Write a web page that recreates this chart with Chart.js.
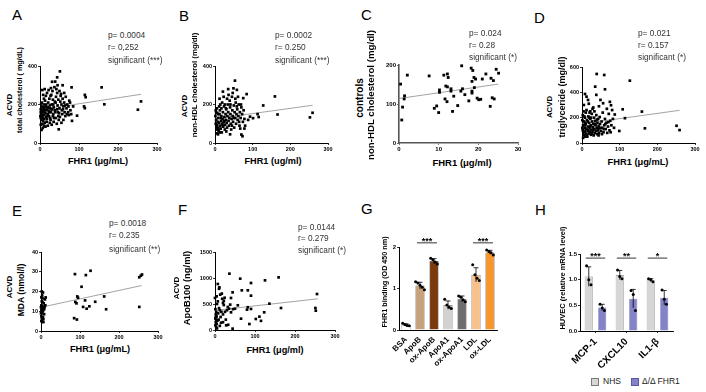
<!DOCTYPE html>
<html>
<head>
<meta charset="utf-8">
<script src="https://cdn.jsdelivr.net/npm/chart.js@4.4.0/dist/chart.umd.min.js"></script>
<style>
  body { margin: 0; width: 706px; height: 392px; background: #fff; position: relative; overflow: hidden;
         font-family: Arial, "Liberation Sans", sans-serif; }
  canvas { position: absolute; }
  .t { position: absolute; white-space: nowrap; line-height: 1; color: #000; }
  .lbl { font-size: 15px; }
  .st { font-size: 8.3px; color: #333; }
  .xt { font-weight: bold; transform: translate(-50%, -50%); }
  .yt { font-weight: bold; transform: translate(-50%, -50%) rotate(-90deg); }
  .box { position: absolute; width: 6px; height: 6px; }
</style>
</head>
<body>
<script>
const FONT = 'Arial, "Liberation Sans", sans-serif';
Chart.defaults.font.family = FONT;
Chart.defaults.color = '#000';

// A: ACVD total cholesterol vs FHR1
const totalChol = [[51,372],[44,341],[39,319],[31,318],[58,300],[81,289],[158,289],[115,250],[117,238],[165,201],[113,190],[115,181],[251,173],[259,216],[95,142],[48,71],[4,68],[7,78],[10,90],[2,95],
  [3,150],[5,165],[2,175],[6,140],[8,130],[4,120],[9,160],[11,145],[12,170],[7,185],[10,200],[5,210],[13,220],[15,190],[14,155],[16,135],[18,125],[20,150],[19,175],[22,165],[21,210],[24,230],[25,195],[26,180],[23,140],[27,120],[28,160],[30,200],[29,250],[32,270],[33,225],[35,185],[34,150],[36,130],[38,170],[40,210],[41,240],[42,280],[44,260],[45,195],[46,160],[47,140],[48,120],[50,180],[52,215],[53,245],[55,200],[56,170],[57,150],[58,230],[60,190],[62,210],[63,160],[65,140],[66,240],[68,180],[70,200],[72,160],[74,145],[75,220],[78,170],[80,150],[85,190],[82,115],[60,120],[55,105],[43,100],[35,110],[30,95],[25,105],[17,110],[12,105],[8,115],[6,100],[14,85],[20,90],[38,215],[31,175],[27,245],[18,260],[10,230],[8,250],[6,275],[12,280],[15,245],[22,275],[28,285],[37,290],[45,300],[50,270],[54,255],[62,260],[4,190],[3,205],[2,160],[1,140],[9,175],[16,200],[13,185],[19,140],[24,160],[26,130],[33,140],[39,160],[44,175],[49,155],[51,135],[59,175],[64,195],[69,150],[73,190],[77,210],[2,130],[5,145],[7,160],[11,125],[15,170],[21,185],[29,175],[34,200],[40,130],[47,225]];
const totalCholFit = [[0,173],[259,253]];

// B: ACVD non-HDL cholesterol
const nonHdl = [[53,324],[49,284],[58,276],[35,280],[21,267],[75,233],[84,254],[159,242],[128,195],[166,148],[113,150],[116,135],[252,133],[259,157],[70,44],[73,35],[101,129],[93,137],[88,120],[80,90],[78,75],
  [2,100],[3,120],[4,85],[5,70],[6,95],[7,110],[8,130],[9,80],[10,60],[11,105],[12,150],[13,170],[14,90],[15,75],[16,115],[17,140],[18,55],[19,100],[20,125],[21,160],[22,85],[23,110],[24,190],[25,135],[26,70],[27,95],[28,150],[29,120],[30,175],[31,105],[32,80],[33,140],[34,200],[35,160],[36,115],[37,90],[38,130],[39,220],[40,185],[41,150],[42,100],[43,70],[44,125],[45,240],[46,170],[47,140],[48,110],[50,195],[51,80],[52,160],[54,130],[55,210],[56,100],[57,150],[59,175],[60,120],[62,140],[63,200],[65,90],[66,160],[68,130],[70,185],[72,150],[74,110],[76,170],[78,125],[1,140],[2,170],[3,160],[5,180],[6,155],[4,50],[8,45],[10,65],[13,55],[7,75],[9,150],[11,190],[14,200],[17,180],[19,210],[12,230],[23,240],[26,200],[29,180],[32,230],[36,250],[41,200],[47,260],[54,230],[58,190],[61,240],[69,200],[15,130],[20,95],[25,115],[30,60],[40,45],[45,90],[50,130],[64,110],[67,75]];
const nonHdlFit = [[0,126],[259,196]];

// C: controls non-HDL cholesterol
const ctrlNonHdl = [[0.4,151],[0.9,92],[0.7,59],[1.3,113],[1.4,121],[2.1,174],[7.6,172],[8.9,89],[9.5,95],[10.0,78],[10.2,136],[10.2,130],[11.3,174],[12.2,177],[12.4,168],[11.8,146],[12.2,144],[11.6,113],[12.1,106],[13.1,139],[13.1,133],[13.5,81],[13.8,120],[14.8,96],[15.8,198],[16.0,139],[15.6,133],[16.6,124],[17.6,108],[18.2,192],[18.4,158],[18.4,133],[18.4,128],[18.9,168],[19.0,142],[19.3,164],[19.7,115],[20.1,111],[20.6,112],[21.0,164],[21.9,177],[23.0,94],[23.2,166],[23.5,116],[24.0,113],[23.8,160],[24.5,189],[25.1,179],[18.6,186]];
const ctrlNonHdlFit = [[0,114],[25,151]];

// D: ACVD triglyceride
const trig = [[39,545],[59,537],[127,492],[61,424],[35,445],[8,387],[12,366],[16,340],[49,340],[56,314],[74,325],[77,298],[108,266],[159,248],[167,116],[99,95],[251,136],[259,102],[114,196],[87,225],[80,260],[66,270],[45,290],[30,280],[22,250],[10,240],[5,300],[18,310],[38,380],
  [2,100],[3,140],[4,80],[5,170],[6,60],[7,120],[8,200],[9,90],[10,150],[11,70],[12,110],[13,180],[14,50],[15,130],[16,95],[17,210],[18,75],[19,160],[20,120],[21,85],[22,190],[23,140],[24,65],[25,105],[26,230],[27,170],[28,90],[29,125],[30,150],[31,60],[32,200],[33,110],[34,80],[35,175],[36,140],[37,95],[38,220],[39,120],[40,70],[41,160],[42,100],[43,190],[44,135],[45,80],[46,115],[47,205],[48,150],[50,95],[52,170],[54,120],[55,240],[57,85],[59,140],[61,190],[63,110],[65,160],[67,80],[69,130],[71,230],[73,100],[75,175],[78,140],[82,190],[85,120],[1,180],[2,220],[4,250],[3,40],[6,210],[8,160],[9,50],[12,260],[15,170],[20,240],[24,200],[28,270],[33,250],[1,120],[5,90],[7,140],[10,110],[13,60],[17,100],[19,200],[22,130],[26,75],[30,105],[34,150],[40,185],[44,60],[49,120],[53,70],[58,110],[62,150],[70,165],[76,85]];
const trigFit = [[0,151],[259,258]];

// E: ACVD MDA
const mda = [[2,20],[5,19.5],[1,17],[4,16.5],[10,16],[2,15],[7,14],[1,13],[4,12.5],[9,12],[2,11.5],[6,11],[1,10.5],[5,10],[3,9],[8,8.5],[1,7.5],[5,7],[2,6.5],[6,6],[3,5.5],[1,5],[11,13],[12,17],[0,12],[0,9],[8,11],[4,14.5],[3,18],[6,4.5],
  [87,28.8],[127,30.5],[115,28.3],[104,22.4],[93,17.5],[95,16.8],[88,14.7],[91,14],[108,12.2],[117,11.3],[124,12.5],[113,15.5],[139,14.8],[162,17.5],[167,11],[85,6.5],[92,5.8],[252,27.2],[256,28],[259,28.6],[252,12.2]];
const mdaFit = [[0,12],[258,23]];

// F: ACVD ApoB100
const apoB100 = [[36,1083],[63,987],[90,904],[125,955],[159,1012],[255,692],[7,885],[11,820],[10,793],[4,647],[0,616],[7,551],[44,724],[67,763],[82,763],[90,660],[40,616],[38,488],[32,443],[57,475],[82,437],[90,405],[80,392],[136,506],[165,423],[251,423],[252,372],[65,218],[102,212],[111,257],[115,176],[123,340],[86,115],[44,26],[28,90],
  [1,400],[3,350],[2,300],[4,260],[1,220],[3,190],[2,150],[4,120],[1,90],[3,60],[5,30],[2,250],[6,180],[8,320],[10,420],[12,380],[14,250],[16,350],[18,600],[20,520],[22,480],[24,620],[15,140],[12,80],[9,200],[20,300],[25,350],[30,380],[35,410],[40,340],[45,400],[50,410],[20,150],[27,200],[33,100],[5,500],[13,680],[17,700],[22,560]];
const apoB100Fit = [[0,378],[257,600]];

// G: FHR1 binding
const bindLabels = ['BSA', 'ApoB', 'ox-ApoB', 'ApoA1', 'ox-ApoA1', 'LDL', 'ox-LDL'];
const bindMean = [0.12, 1.07, 1.66, 0.60, 0.75, 1.33, 1.87];
const bindSD = [0.03, 0.08, 0.06, 0.10, 0.07, 0.17, 0.05];
const bindDots = [[0.16,0.13,0.11,0.10],[1.16,1.13,1.08,1.03,0.97],[1.73,1.69,1.64,1.59],[0.74,0.60,0.55,0.52],[0.82,0.79,0.73,0.68],[1.57,1.33,1.25,1.19],[1.93,1.89,1.86,1.81]];
const bindColors = ['#ffffff', '#c6a17c', '#7a3a0e', '#d2d2d2', '#6d6d6d', '#f7c18b', '#f6962f'];
const bindSig = [[[0,1],[0,2],2.1,'***'],[[0,5],[0,6],2.1,'***']];

// H: HUVEC mRNA
const huvecLabels = ['MCP-1', 'CXCL10', 'IL1-β'];
const huvecNHS = [1.06, 1.09, 0.99];
const huvecNHSsd = [0.19, 0.09, 0.03];
const huvecNHSdots = [[1.27,1.00,0.90],[1.19,1.06,1.02],[1.02,1.00,0.96]];
const huvecKO = [0.46, 0.63, 0.65];
const huvecKOsd = [0.06, 0.18, 0.14];
const huvecKOdots = [[0.52,0.45,0.40],[0.79,0.71,0.40],[0.80,0.62,0.52]];
const huvecSig = [[[0,0],[1,0],1.42,'***'],[[0,1],[1,1],1.42,'**'],[[0,2],[1,2],1.42,'*']];

function txt(s, x, y, cls, size) {
  const d = document.createElement('div');
  d.className = 't ' + cls;
  d.textContent = s;
  d.style.left = x + 'px';
  d.style.top = y + 'px';
  if (size) d.style.fontSize = size + 'px';
  document.body.appendChild(d);
  return d;
}

// canvas placed so the chart area lands on box = [left, top, right, bottom]
function placeCanvas(box, wy, hx, pt, pr) {
  const c = document.createElement('canvas');
  c.width = box[2] - box[0] + wy + pr;
  c.height = box[3] - box[1] + pt + hx;
  c.style.left = (box[0] - wy) + 'px';
  c.style.top = (box[1] - pt) + 'px';
  document.body.appendChild(c);
  return c;
}

function linAxis(r, size, isX, fs, col, bw) {
  return {
    type: 'linear', min: r[0], max: r[1],
    ticks: { stepSize: r[2], color: '#000', padding: 1, font: { size: fs, weight: 'bold' },
             callback: r[3] ? (v => v.toFixed(r[3])) : undefined },
    grid: { display: true, drawOnChartArea: false, tickLength: 2, color: col || '#000', lineWidth: 0.8 },
    border: { color: col || '#000', width: bw || 1 },
    afterFit: s => { if (isX) s.height = size; else s.width = size; }
  };
}

function baseOpts(scales, pt, pr, extra) {
  return {
    responsive: false, animation: false, events: [],
    layout: { padding: { top: pt, right: pr, left: 0, bottom: 0 } },
    plugins: Object.assign({ legend: { display: false }, tooltip: { enabled: false } }, extra || {}),
    scales
  };
}

function scatterChart(box, wy, pts, fit, xr, yr, fs, col, bw, pr) {
  const cv = placeCanvas(box, wy, 10, 6, 8);
  new Chart(cv, {
    type: 'scatter',
    data: { datasets: [
      { data: pts.map(p => ({ x: p[0], y: p[1] })), pointStyle: 'rect', pointRadius: pr || 1.9,
        backgroundColor: '#000', borderWidth: 0, clip: false },
      { data: fit.map(p => ({ x: p[0], y: p[1] })), showLine: true, pointRadius: 0,
        borderColor: '#8c8c8c', borderWidth: 0.8 }
    ] },
    options: baseOpts({ x: linAxis(xr, 10, true, fs, col, bw), y: linAxis(yr, wy, false, fs, col, bw) }, 6, 8)
  });
}

scatterChart([40, 66, 157, 143], 13, totalChol, totalCholFit, [0, 300, 100], [0, 400, 200], 5.5);
scatterChart([215, 66, 328, 143], 13, nonHdl, nonHdlFit, [0, 300, 100], [0, 400, 200], 5.5);
scatterChart([399, 65, 518, 143], 14, ctrlNonHdl, ctrlNonHdlFit, [0, 30, 10], [0, 200, 100], 6, '#555', 1.6, 2);
scatterChart([582, 67, 695, 143], 13, trig, trigFit, [0, 300, 100], [0, 600, 200], 5.5);
scatterChart([41, 252, 158, 331], 11, mda, mdaFit, [0, 300, 100], [0, 40, 10], 5.5);
scatterChart([215, 252, 335, 330], 17, apoB100, apoB100Fit, [0, 300, 100], [0, 1500, 500], 5.5);

// error bars, jittered dots and significance brackets drawn from the bar scales
const barExtras = {
  id: 'barExtras',
  afterDatasetsDraw(chart, args, o) {
    const ctx = chart.ctx, ys = chart.scales.y;
    ctx.save();
    ctx.strokeStyle = '#000';
    ctx.fillStyle = '#000';
    ctx.lineWidth = 0.8;
    o.sets.forEach((s, di) => {
      chart.getDatasetMeta(di).data.forEach((bar, i) => {
        const top = ys.getPixelForValue(s.mean[i] + s.sd[i]);
        const bot = ys.getPixelForValue(s.mean[i] - s.sd[i]);
        ctx.beginPath();
        ctx.moveTo(bar.x, top); ctx.lineTo(bar.x, bot);
        ctx.moveTo(bar.x - 2.5, top); ctx.lineTo(bar.x + 2.5, top);
        ctx.stroke();
        const d = s.dots[i];
        d.forEach((v, j) => {
          ctx.beginPath();
          ctx.arc(bar.x + (j - (d.length - 1) / 2) * 2.2, ys.getPixelForValue(v), 1.5, 0, Math.PI * 2);
          ctx.fill();
        });
      });
    });
    ctx.font = 'bold 9px ' + FONT;
    ctx.textAlign = 'center';
    ctx.textBaseline = 'alphabetic';
    o.sig.forEach(([a, b, y, t]) => {
      const pa = chart.getDatasetMeta(a[0]).data[a[1]];
      const pb = chart.getDatasetMeta(b[0]).data[b[1]];
      const py = ys.getPixelForValue(y);
      ctx.beginPath();
      ctx.moveTo(pa.x - 3, py); ctx.lineTo(pb.x + 3, py);
      ctx.stroke();
      ctx.fillText(t, (pa.x + pb.x) / 2, py + 1);
    });
    ctx.restore();
  }
};

function catAxis(labels, size, fs, ticks) {
  return {
    type: 'category', labels,
    ticks: { color: '#000', padding: 3, minRotation: 45, maxRotation: 45, autoSkip: false,
             font: { size: fs, weight: 'bold' } },
    grid: { display: ticks, drawOnChartArea: false, offset: false, tickLength: 2, color: '#000', lineWidth: 0.8 },
    border: { color: '#000', width: 1 },
    afterFit: s => { s.height = size; }
  };
}

// G
new Chart(placeCanvas([399, 247, 497, 330], 10, 45, 16, 4), {
  type: 'bar',
  data: { labels: bindLabels, datasets: [
    { data: bindMean, backgroundColor: bindColors, borderColor: '#555', borderWidth: 0.6,
      barPercentage: 0.65, categoryPercentage: 1 }
  ] },
  options: baseOpts({ x: catAxis(bindLabels, 45, 8, false), y: linAxis([0, 2, 1], 10, false, 6) }, 16, 4,
    { barExtras: { sets: [{ mean: bindMean, sd: bindSD, dots: bindDots }], sig: bindSig } }),
  plugins: [barExtras]
});

// H
new Chart(placeCanvas([580, 254, 673, 331], 14, 45, 8, 4), {
  type: 'bar',
  data: { labels: huvecLabels, datasets: [
    { label: 'NHS', data: huvecNHS, backgroundColor: '#d6d6d6', borderColor: '#7a7a7a', borderWidth: 0.6,
      barPercentage: 0.6, categoryPercentage: 0.87 },
    { label: 'Δ/Δ FHR1', data: huvecKO, backgroundColor: '#8383c8', borderColor: '#5a5aa0', borderWidth: 0.6,
      barPercentage: 0.6, categoryPercentage: 0.87 }
  ] },
  options: baseOpts({ x: catAxis(huvecLabels, 45, 10, true), y: linAxis([0, 1.5, 0.5, 1], 14, false, 6) }, 8, 4,
    { barExtras: { sets: [{ mean: huvecNHS, sd: huvecNHSsd, dots: huvecNHSdots }, { mean: huvecKO, sd: huvecKOsd, dots: huvecKOdots }],
                   sig: huvecSig } }),
  plugins: [barExtras]
});

// panel letters
[['A', 12, 7], ['B', 179, 8], ['C', 361, 7], ['D', 534, 10], ['E', 12, 203], ['F', 178, 202], ['G', 361, 201], ['H', 535, 202]]
  .forEach(l => txt(l[0], l[1], l[2], 'lbl'));

// correlation statistics
[[108, [35, 47, 60], ['p= 0.0004', 'r= 0,252', 'significant (***)']],
 [275, [35, 47, 60], ['p= 0.0002', 'r= 0.250', 'significant (***)']],
 [469, [33, 45, 57], ['p= 0.024', 'r= 0.28', 'significant (*)']],
 [638, [33, 45, 57], ['p= 0.021', 'r= 0.157', 'significant (*)']],
 [109, [223, 235, 249], ['p= 0.0018', 'r= 0.235', 'significant (**)']],
 [298, [227, 238, 250], ['p= 0.0144', 'r= 0.279', 'significant (*)']]]
  .forEach(s => s[2].forEach((t, i) => txt(t, s[0], s[1][i] - 4, 'st')));

// x axis titles
[['FHR1 (μg/mL)', 98, 162, 9.2], ['FHR1 (ug/ml)', 273, 162, 9.2], ['FHR1  (μg/ml)', 462, 163, 9.5],
 ['FHR1 (μg/mL)', 638, 163, 9.3], ['FHR1 (μg/mL)', 100, 350, 9.2], ['FHR1 (μg/ml)', 275, 351, 9.2]]
  .forEach(t => txt(t[0], t[1], t[2], 'xt', t[3]));

// y axis titles
[['ACVD', 10, 105, 8], ['total cholesterol ( mg/dL)', 20, 90, 7.2],
 ['ACVD', 185, 106, 8], ['non-HDL cholesterol (mg/dl)', 195, 85, 7.8],
 ['controls', 360, 98, 10], ['non-HDL cholesterol (mg/dl)', 371, 95, 9.7],
 ['ACVD', 550, 107, 7.8], ['triglyceride  (mg/dl)', 562, 97, 9],
 ['ACVD', 10, 287, 8], ['MDA (nmol/l)', 21, 290, 8.6],
 ['ACVD', 177, 288, 8], ['ApoB100 (ng/ml)', 187, 288, 9.4],
 ['FHR1 binding (OD 450 nm)', 385, 282, 7.2],
 ['HUVEC (relative mRNA level)', 563, 278, 7.5]]
  .forEach(t => txt(t[0], t[1], t[2], 'yt', t[3]));

// legend for H
[['#d6d6d6', '#7a7a7a', 591, 'NHS', 603], ['#8383c8', '#5a5aa0', 631, 'Δ/Δ FHR1', 642]].forEach(l => {
  const b = document.createElement('div');
  b.className = 'box';
  b.style.background = l[0];
  b.style.border = '0.6px solid ' + l[1];
  b.style.left = l[2] + 'px';
  b.style.top = '378px';
  document.body.appendChild(b);
  txt(l[3], l[4], 377, 'st', 8.5).style.color = '#222';
});
</script>
</body>
</html>
